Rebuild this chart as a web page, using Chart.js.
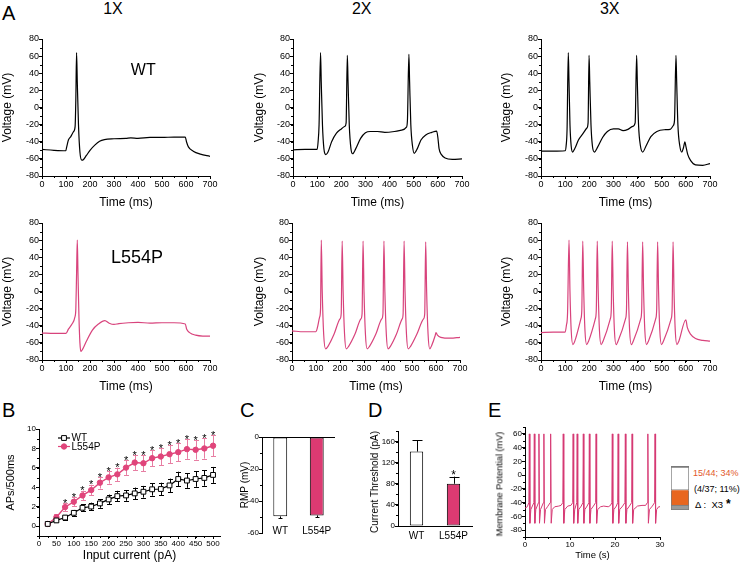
<!DOCTYPE html>
<html>
<head>
<meta charset="utf-8">
<script src="https://cdn.jsdelivr.net/npm/chart.js@4.4.1/dist/chart.umd.min.js"></script>
<style>
body { margin: 0; background: #fff; width: 741px; height: 563px; position: relative; overflow: hidden; font-family: "Liberation Sans", Arial, sans-serif; }
canvas { position: absolute; }
.t { position: absolute; line-height: 1; white-space: pre; color: #000; z-index: 2; }
</style>
</head>
<body>
<script>
// ---- data ----
// panel A traces: [time ms, voltage mV]
const wt1x = [[0,-49],[50,-50],[99,-50.5],[103,-46],[110,-38],[120,-34],[132,-28],[138,-22],[141,10],[144,64],[147,30],[152,-20],[158,-52],[166,-61.5],[172,-61],[185,-56],[200,-50],[220,-44],[240,-39.5],[260,-37.5],[300,-36.5],[350,-36],[370,-35.5],[400,-36],[450,-35],[500,-35],[550,-34.5],[597,-34.5],[602,-40],[610,-46],[630,-51],[660,-54.5],[700,-57]];
const wt2x = [[0,-49.5],[50,-49],[100,-49],[104,-40],[108,-20],[114,64],[117,30],[122,-20],[128,-48],[136,-55],[145,-52],[160,-40],[180,-30],[200,-25],[215,-22],[220,-18],[225,61],[228,30],[233,-20],[240,-48],[247,-54],[260,-48],[280,-36],[300,-29.5],[320,-28],[350,-28],[380,-29],[420,-28],[450,-26.5],[470,-23],[474,-15],[480,62],[483,30],[488,-20],[495,-45],[502,-53.5],[515,-48],[530,-38],[550,-32],[575,-29],[595,-27.5],[600,-35],[605,-48],[615,-55],[630,-59],[660,-60.5],[700,-60]];
const wt3x = [[0,-51],[50,-51],[100,-50.5],[104,-45],[108,-25],[113,64],[116,30],[120,-20],[125,-45],[131,-52],[140,-48],[155,-38],[175,-30],[190,-24],[195,-18],[199,61],[202,30],[207,-20],[213,-45],[221,-52],[235,-46],[255,-35],[275,-28],[300,-25],[320,-25],[340,-27],[360,-25.5],[380,-22],[390,-18],[396,61],[399,30],[404,-20],[412,-45],[421,-52],[435,-45],[455,-34],[480,-28],[510,-26],[535,-25.5],[548,-21],[553,-15],[559,61],[562,30],[567,-20],[575,-45],[583,-52],[590,-47],[596,-40],[600,-45],[608,-55],[620,-62],[640,-67],[670,-67.5],[700,-65.5]];
const mut1x = [[0,-48.5],[50,-49],[100,-49],[110,-44],[125,-38],[137,-30],[141,-20],[144,20],[147,60],[150,20],[154,-30],[158,-60],[162,-70],[170,-67],[185,-58],[210,-45],[235,-38],[262,-34],[280,-37],[300,-38.5],[320,-37.5],[360,-36.5],[400,-36],[450,-37],[500,-36.5],[550,-36.5],[597,-38],[603,-44],[615,-48],[640,-51],[670,-52],[700,-52]];
const mut2x = [[0,-46],[50,-47],[100,-47],[106,-42],[115,-30],[119,-20],[122,60],[126,0],[132,-50],[140,-67],[150,-64],[175,-50],[200,-32],[205,-26],[209,59],[213,0],[219,-50],[226,-67],[236,-64],[262,-50],[287,-32],[292,-26],[296,59],[300,0],[306,-50],[313,-67],[323,-64],[349,-50],[374,-32],[379,-26],[383,59],[387,0],[393,-50],[400,-67],[410,-64],[435,-50],[459,-32],[463,-26],[467,59],[471,0],[477,-50],[484,-67],[494,-64],[520,-50],[548,-32],[553,-26],[557,58],[561,0],[567,-50],[574,-67],[582,-63],[596,-52],[600,-48],[606,-51],[620,-53.5],[660,-54.5],[700,-53.5]];
const mut3x = [[0,-48],[50,-47.5],[100,-47.5],[105,-40],[110,-25],[116,60],[120,0],[125,-45],[132,-62],[140,-58],[165,-32],[169,-22],[173,59],[177,0],[182,-45],[189,-62],[197,-58],[225,-32],[229,-22],[233,59],[237,0],[242,-45],[249,-62],[257,-58],[287,-32],[291,-22],[295,59],[299,0],[304,-45],[311,-62],[319,-58],[350,-32],[354,-22],[358,58],[362,0],[367,-45],[374,-62],[382,-58],[413,-32],[417,-22],[421,58],[425,0],[430,-45],[437,-62],[445,-58],[475,-32],[479,-22],[483,58],[487,0],[492,-45],[499,-62],[507,-58],[539,-32],[543,-22],[547,58],[551,0],[556,-45],[563,-62],[571,-58],[600,-33],[606,-42],[620,-50],[640,-55],[670,-57],[700,-58]];

// panel B: APs per 500 ms vs input current
const bCurrent = [25,50,75,100,125,150,175,200,225,250,275,300,325,350,375,400,425,450,475,500];
const wtAPs    = [0.24,0.6,0.9,1.38,1.9,2.03,2.35,2.76,3.1,3.17,3.38,3.55,3.8,3.83,4.2,4.86,4.7,4.86,4.97,5.28];
const wtAPsErr = [0.05,0.15,0.25,0.3,0.35,0.4,0.45,0.5,0.55,0.55,0.6,0.6,0.65,0.65,0.7,0.75,0.75,0.8,0.8,0.82];
const mutAPs    = [0.24,0.93,1.97,2.52,3.17,3.72,4.48,5.03,5.34,6.03,6.55,6.48,7.0,7.17,7.41,7.62,7.93,7.86,8.0,8.28];
const mutAPsErr = [0.05,0.3,0.4,0.45,0.5,0.55,0.6,0.65,0.7,0.75,0.8,0.8,0.85,0.9,0.95,0.95,1.0,1.0,1.05,1.08];
const mutStars  = [0,0,1,1,1,1,1,1,1,1,1,1,1,1,1,1,1,1,1,1];

// panels C and D
const groups = ['WT', 'L554P'];
const rmp = [-49.6, -49.0];
const rmpErr = [1.2, 1.3];
const threshold = [141, 80];
const thresholdErr = [21, 13.5];
const thresholdStars = [0, 1];

// panel E: spontaneous firing [time s, mV]
const spont = [[0,-48],[0.5,-46],[0.86,-40],[0.96,60],[1.08,-70],[1.3,-50],
  [1.97,-40],[2.07,60],[2.19,-70],[2.4,-50],
  [3.0,-40],[3.1,60],[3.22,-70],[3.45,-50],
  [4.1,-40],[4.2,60],[4.32,-70],[4.55,-50],[5.0,-46],
  [5.6,-40],[5.7,60],[5.82,-70],[6.05,-50],[6.6,-46],[7.5,-45],[8.0,-44],
  [8.4,-40],[8.5,60],[8.62,-70],[8.85,-50],[9.5,-45],[10.2,-44],
  [10.6,-40],[10.7,60],[10.82,-70],[11.05,-50],
  [11.5,-40],[11.6,60],[11.72,-70],[11.95,-50],[12.5,-45],
  [12.86,-40],[12.96,60],[13.08,-70],[13.3,-50],[13.8,-45],
  [14.2,-40],[14.3,60],[14.42,-70],[14.65,-50],[15.2,-45],
  [15.7,-40],[15.8,60],[15.92,-70],[16.15,-50],[16.8,-46],[17.5,-45],[18.5,-46],[19.0,-44],
  [19.3,-40],[19.4,60],[19.52,-70],[19.75,-50],[20.3,-45],
  [20.6,-40],[20.7,60],[20.82,-70],[21.05,-50],[21.7,-45],
  [22.2,-40],[22.3,60],[22.42,-70],[22.65,-50],[23.2,-45],
  [23.7,-40],[23.8,60],[23.92,-70],[24.15,-50],[25,-45],[26,-44],[26.8,-44],
  [27.2,-40],[27.3,60],[27.42,-70],[27.65,-50],[28.3,-45],
  [28.8,-40],[28.9,60],[29.02,-70],[29.25,-50],[29.7,-46],[30,-46]];
// proportion box (percent, bottom to top)
const boxParts = [11, 34, 55];

// tick labels
const traceXTicks = [0,100,200,300,400,500,600,700];
const traceYTicks = [-80,-60,-40,-20,0,20,40,60,80];
const bXTicks = [0,50,100,150,200,250,300,350,400,450,500];
const bYTicks = [0,2,4,6,8,10];
const cYTicks = [0,-20,-40,-60];
const dYTicks = [0,40,80,120,160];
const eXTicks = [0,10,20,30];
const eYTicks = [-80,-60,-40,-20,0,20,40,60];

// ---- drawing ----
const FONT = "'Liberation Sans', Arial, sans-serif";
const PINK = '#d8437c';
const BAR_PINK = '#dc3a72';
Chart.defaults.font.family = FONT;
Chart.defaults.font.weight = 'normal';
Chart.defaults.color = '#000';
Chart.defaults.animation = false;

const minorTicks = {
  id: 'minorTicks',
  afterDraw(chart, args, o) {
    if (!o || !o.axes) return;
    const ctx = chart.ctx, a = chart.chartArea;
    ctx.save();
    ctx.strokeStyle = '#000';
    ctx.lineWidth = 1;
    ctx.beginPath();
    for (const id in o.axes) {
      const s = chart.scales[id], step = o.axes[id];
      for (let v = Math.ceil(s.min / step) * step; v <= s.max + 1e-9; v += step) {
        const p = Math.round(s.getPixelForValue(v)) + 0.5;
        if (s.isHorizontal()) { ctx.moveTo(p, a.bottom); ctx.lineTo(p, a.bottom + 2); }
        else { ctx.moveTo(a.left - 2, p); ctx.lineTo(a.left, p); }
      }
    }
    ctx.stroke();
    ctx.restore();
  }
};

// category names drawn inside the bottom of the plot (panel C)
const innerLabels = {
  id: 'innerLabels',
  afterDraw(chart) {
    const ctx = chart.ctx, a = chart.chartArea, xs = chart.scales.x;
    ctx.save();
    ctx.fillStyle = '#000';
    ctx.font = '10px ' + FONT;
    ctx.textAlign = 'center';
    ctx.textBaseline = 'middle';
    chart.data.labels.forEach((lab, i) => ctx.fillText(lab, xs.getPixelForValue(i), a.bottom - 2));
    ctx.restore();
  }
};

function valOf(d) { return typeof d === 'object' ? d.y : d; }

const errorBars = {
  id: 'errorBars',
  beforeDatasetsDraw(chart) {
    const ctx = chart.ctx, ys = chart.scales.y;
    chart.data.datasets.forEach((ds, i) => {
      if (!ds.errors) return;
      const meta = chart.getDatasetMeta(i);
      const dir = ds.errDir || 0;
      ctx.save();
      ctx.strokeStyle = ds.errColor || '#000';
      ctx.lineWidth = 1;
      ctx.beginPath();
      meta.data.forEach((el, j) => {
        const e = ds.errors[j], v = valOf(ds.data[j]);
        const x = Math.round(el.x) + 0.5;
        const lo = ys.getPixelForValue(dir > 0 ? v : v - e);
        const hi = ys.getPixelForValue(dir < 0 ? v : v + e);
        ctx.moveTo(x, lo); ctx.lineTo(x, hi);
        const caps = [];
        if (dir >= 0) caps.push(hi);
        if (dir <= 0) caps.push(lo);
        caps.forEach(c => {
          const yy = Math.round(c) + 0.5;
          ctx.moveTo(x - ds.capW, yy); ctx.lineTo(x + ds.capW, yy);
        });
      });
      ctx.stroke();
      ctx.restore();
    });
  },
  afterDatasetsDraw(chart) {
    const ctx = chart.ctx, ys = chart.scales.y;
    chart.data.datasets.forEach((ds, i) => {
      if (!ds.stars) return;
      const meta = chart.getDatasetMeta(i);
      ctx.save();
      ctx.fillStyle = '#000';
      ctx.font = ds.starSize + 'px ' + FONT;
      ctx.textAlign = 'center';
      ctx.textBaseline = 'alphabetic';
      meta.data.forEach((el, j) => {
        if (!ds.stars[j]) return;
        const top = ys.getPixelForValue(valOf(ds.data[j]) + ds.errors[j]);
        ctx.fillText('*', el.x, top - ds.starGap + 0.43 * ds.starSize);
      });
      ctx.restore();
    });
  }
};

function makeCanvas(left, top, right, bottom) {
  const cv = document.createElement('canvas');
  cv.width = right - left;
  cv.height = bottom - top;
  cv.style.left = left + 'px';
  cv.style.top = top + 'px';
  cv.style.width = (right - left) + 'px';
  cv.style.height = (bottom - top) + 'px';
  document.body.appendChild(cv);
  return cv;
}

function linAxis(min, max, ticks, size, dir, title, titleSize, tickSize) {
  return {
    type: 'linear', min, max,
    afterBuildTicks: s => { s.ticks = ticks.map(v => ({ value: v })); },
    afterFit: s => { if (dir === 'x') s.height = size; else s.width = size; },
    grid: { drawOnChartArea: false, tickLength: 3, tickColor: '#000', color: '#000' },
    border: { color: '#000', width: 1 },
    ticks: { color: '#000', font: { size: tickSize, weight: 'normal' }, padding: 0, autoSkip: false, maxRotation: 0 },
    title: { display: !!title, text: title || '', color: '#000', font: { size: titleSize, lineHeight: 1.2, weight: 'normal' }, padding: 0 }
  };
}

function baseOptions(padT, padR) {
  return {
    responsive: false,
    animation: false,
    layout: { padding: { top: padT, right: padR, left: 0, bottom: 0 } },
    plugins: { legend: { display: false }, tooltip: { enabled: false } }
  };
}

function tracePanel(plot, titleCx, titleCy, pts, color) {
  const [l, t, w, h] = plot;
  const left = Math.round(titleCx - 7.2), top = t - 8, right = l + w + 12, bottom = Math.round(titleCy + 7.2);
  const cv = makeCanvas(left, top, right, bottom);
  const opts = baseOptions(8, 12);
  opts.plugins.minorTicks = { axes: { x: 50, y: 10 } };
  opts.scales = {
    x: linAxis(0, 700, traceXTicks, bottom - (t + h), 'x', 'Time (ms)', 12, 9),
    y: linAxis(-80, 80, traceYTicks, l - left, 'y', 'Voltage (mV)', 12, 9)
  };
  new Chart(cv, {
    type: 'line',
    data: { datasets: [{ data: pts.map(p => ({ x: p[0], y: p[1] })), borderColor: color, borderWidth: 1.2, pointRadius: 0, cubicInterpolationMode: 'monotone', fill: false }] },
    options: opts,
    plugins: [minorTicks]
  });
}

tracePanel([42, 39, 168, 137], 7.5, 202.8, wt1x, '#000');
tracePanel([293, 39, 169, 137], 259.2, 202.8, wt2x, '#000');
tracePanel([541, 39, 169, 137], 506.5, 202.8, wt3x, '#000');
tracePanel([42, 223, 168, 137], 7.5, 387, mut1x, PINK);
tracePanel([292, 223, 168, 137], 259.2, 387, mut2x, PINK);
tracePanel([541, 223, 169, 137], 506.5, 387, mut3x, PINK);

// panel B
(function () {
  const l = 39, t = 429, w = 181, h = 107;
  const left = 4, top = t - 8, right = l + w + 10, bottom = 563;
  const cv = makeCanvas(left, top, right, bottom);
  const opts = baseOptions(8, 10);
  opts.plugins.minorTicks = { axes: { x: 25, y: 1 } };
  opts.scales = {
    x: linAxis(0, 520, bXTicks, bottom - (t + h), 'x', 'Input current (pA)', 12, 8),
    y: linAxis(-1, 10, bYTicks, l - left, 'y', 'APs/500ms', 11, 8)
  };
  const legendBox = {
    id: 'legendBox',
    afterDraw(chart) {
      const ctx = chart.ctx, a = chart.chartArea;
      const rowY = [9, 17.5];
      chart.data.datasets.forEach((ds, i) => {
        const y = a.top + rowY[i], x0 = a.left + 19, x1 = a.left + 31;
        ctx.save();
        ctx.strokeStyle = ds.borderColor;
        ctx.lineWidth = 1.2;
        ctx.beginPath(); ctx.moveTo(x0, y); ctx.lineTo(x1, y); ctx.stroke();
        ctx.fillStyle = ds.pointBackgroundColor;
        ctx.strokeStyle = ds.pointBorderColor;
        ctx.lineWidth = 1;
        Chart.helpers.drawPoint(ctx, { pointStyle: ds.pointStyle, radius: ds.pointRadius, borderWidth: 1, rotation: 0 }, (x0 + x1) / 2, y);
        ctx.fillStyle = '#000';
        ctx.font = '10px ' + FONT;
        ctx.textBaseline = 'middle';
        ctx.fillText(ds.label, x1 + 1.5, y + 0.5);
        ctx.restore();
      });
    }
  };
  new Chart(cv, {
    type: 'line',
    data: {
      datasets: [
        { label: 'WT', data: bCurrent.map((x, i) => ({ x, y: wtAPs[i] })), borderColor: '#000', borderWidth: 1.2,
          pointStyle: 'rect', pointRadius: 3.4, pointBackgroundColor: '#fff', pointBorderColor: '#000', pointBorderWidth: 1,
          errors: wtAPsErr, errColor: '#000', capW: 2.5 },
        { label: 'L554P', data: bCurrent.map((x, i) => ({ x, y: mutAPs[i] })), borderColor: '#e0457b', borderWidth: 1.4,
          pointStyle: 'circle', pointRadius: 2.7, pointBackgroundColor: '#e0457b', pointBorderColor: '#e0457b', pointBorderWidth: 1,
          errors: mutAPsErr, errColor: '#e77ea3', capW: 2.5, stars: mutStars, starSize: 11, starGap: 1 }
      ]
    },
    options: opts,
    plugins: [errorBars, minorTicks, legendBox]
  });
})();

// panel C
(function () {
  const l = 262, t = 437, w = 73, h = 96;
  const left = 239, top = t - 6, right = l + w + 4, bottom = 545;
  const cv = makeCanvas(left, top, right, bottom);
  const opts = baseOptions(6, 4);
  opts.plugins.minorTicks = { axes: { y: 10 } };
  const y = linAxis(-60, 0, cYTicks, l - left, 'y', 'RMP (mV)', 10, 8);
  y.grid = { drawOnChartArea: true, tickLength: 3, tickColor: '#000', color: c => (c.tick && c.tick.value === 0 ? '#000' : 'rgba(0,0,0,0)') };
  opts.scales = {
    x: { type: 'category', afterFit: s => { s.height = bottom - (t + h); },
         grid: { display: false, drawTicks: false }, border: { display: false },
         ticks: { display: false } },
    y
  };
  new Chart(cv, {
    type: 'bar',
    data: { labels: groups, datasets: [{ data: rmp, backgroundColor: ['#fff', BAR_PINK], borderColor: '#000', borderWidth: 1, borderSkipped: false,
      barPercentage: 0.38, categoryPercentage: 1, errors: rmpErr, errDir: -1, errColor: '#000', capW: 2 }] },
    options: opts,
    plugins: [errorBars, minorTicks, innerLabels]
  });
})();

// panel D
(function () {
  const l = 398, t = 431, w = 74, h = 95;
  const left = 369, top = t - 6, right = l + w + 4, bottom = 547;
  const cv = makeCanvas(left, top, right, bottom);
  const opts = baseOptions(6, 4);
  opts.plugins.minorTicks = { axes: { y: 20 } };
  opts.scales = {
    x: { type: 'category', afterFit: s => { s.height = bottom - (t + h); },
         grid: { display: false, drawTicks: false }, border: { display: true, color: '#000', width: 1 },
         ticks: { color: '#000', font: { size: 10 }, padding: 4 } },
    y: linAxis(0, 180, dYTicks, l - left, 'y', null, 10, 8)
  };
  new Chart(cv, {
    type: 'bar',
    data: { labels: groups, datasets: [{ data: threshold, backgroundColor: ['#fff', BAR_PINK], borderColor: '#000', borderWidth: 1, borderSkipped: false,
      barPercentage: 0.36, categoryPercentage: 1, errors: thresholdErr, errDir: 1, errColor: '#000', capW: 5,
      stars: thresholdStars, starSize: 12, starGap: 3 }] },
    options: opts,
    plugins: [errorBars, minorTicks]
  });
})();

// panel E
(function () {
  const l = 525, t = 427, w = 135, h = 110;
  const left = 493, top = t - 6, right = l + w + 8, bottom = 561;
  const cv = makeCanvas(left, top, right, bottom);
  const opts = baseOptions(6, 8);
  opts.plugins.minorTicks = { axes: { x: 5, y: 10 } };
  opts.scales = {
    x: linAxis(0, 30, eXTicks, bottom - (t + h), 'x', 'Time (s)', 9.5, 8),
    y: linAxis(-90, 70, eYTicks, l - left, 'y', null, 9, 8)
  };
  new Chart(cv, {
    type: 'line',
    data: { datasets: [{ data: spont.map(p => ({ x: p[0], y: p[1] })), borderColor: '#d63a74', borderWidth: 1, pointRadius: 0, fill: false }] },
    options: opts,
    plugins: [minorTicks]
  });
})();

// proportion box in E
(function () {
  const cv = makeCanvas(671, 466, 689, 510);
  new Chart(cv, {
    type: 'bar',
    data: {
      labels: [''],
      datasets: [
        { data: [boxParts[0]], backgroundColor: '#9a9a9a', borderColor: '#7a7a7a', borderWidth: { top: 1, left: 1, right: 1, bottom: 1 }, borderSkipped: false },
        { data: [boxParts[1]], backgroundColor: '#e8661f', borderColor: '#7a7a7a', borderWidth: { top: 0, left: 1, right: 1, bottom: 0 }, borderSkipped: false },
        { data: [boxParts[2]], backgroundColor: '#fff', borderColor: '#7a7a7a', borderWidth: { top: 2, left: 1, right: 1, bottom: 1 }, borderSkipped: false }
      ]
    },
    options: {
      responsive: false, animation: false,
      layout: { padding: 0 },
      datasets: { bar: { barPercentage: 1, categoryPercentage: 1 } },
      plugins: { legend: { display: false }, tooltip: { enabled: false } },
      scales: { x: { display: false, stacked: true }, y: { display: false, stacked: true, min: 0, max: 100 } }
    }
  });
})();

// ---- text ----
function txt(s, x, base, size, o = {}) {
  const d = document.createElement('div');
  d.className = 't';
  d.textContent = s;
  d.style.fontSize = size + 'px';
  d.style.top = (base - 0.8465 * size) + 'px';
  d.style.left = x + 'px';
  if (o.center) d.style.transform = 'translateX(-50%)';
  if (o.color) d.style.color = o.color;
  if (o.bold) d.style.fontWeight = 'bold';
  document.body.appendChild(d);
}
// rotated axis title centred on (cx, cy)
function vtxt(s, cx, cy, size) {
  const d = document.createElement('div');
  d.className = 't';
  d.textContent = s;
  d.style.fontSize = size + 'px';
  d.style.left = cx + 'px';
  d.style.top = cy + 'px';
  d.style.transform = 'translate(-50%, -50%) rotate(-90deg)';
  document.body.appendChild(d);
}
txt('A', 2, 20, 20);
txt('1X', 113, 14.3, 16, { center: true });
txt('2X', 361.7, 14.3, 16, { center: true });
txt('3X', 609.7, 14.3, 16, { center: true });
txt('WT', 143.3, 76, 16, { center: true });
txt('L554P', 137, 263.3, 18, { center: true });
txt('B', 2, 416.7, 20);
txt('C', 240, 416.7, 20);
txt('D', 368, 416.7, 20);
txt('E', 488, 416.7, 20);
vtxt('Current Threshold (pA)', 375, 482, 10);
vtxt('Membrane Potential (mV)', 499.5, 484, 9.2);
txt('15/44; 34%', 693, 476.5, 9, { color: '#e2582b' });
txt('(4/37; 11%)', 694, 492.3, 9);
txt('Δ :  X3', 695, 508.3, 9.5);
txt('*', 726, 508, 12, { bold: true });
</script>
</body>
</html>
